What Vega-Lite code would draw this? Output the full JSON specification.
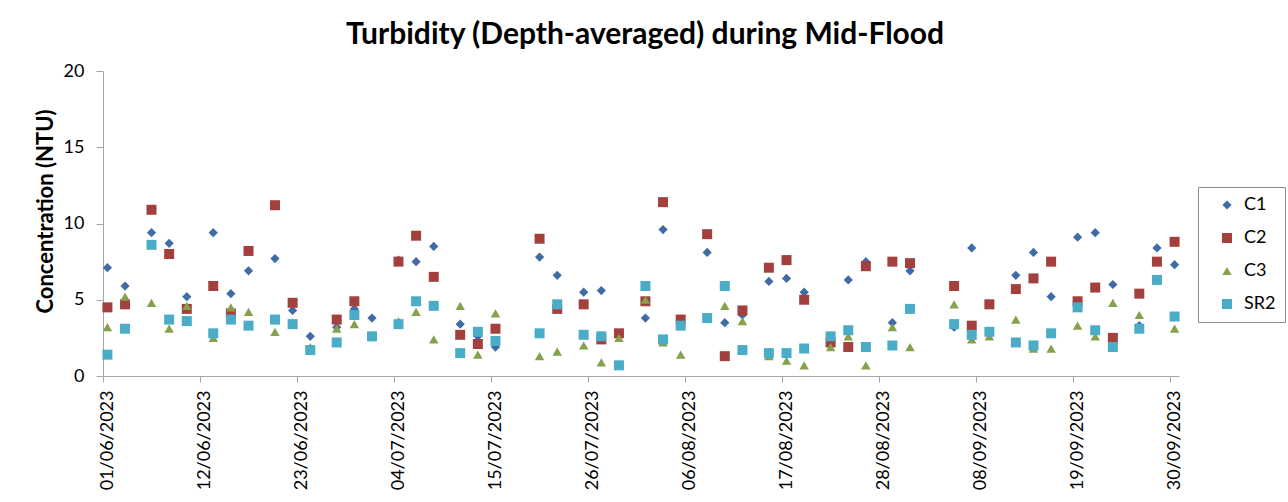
{
  "$schema": "https://vega.github.io/schema/vega-lite/v6.json",
  "width": 1076,
  "height": 305,
  "autosize": {"type": "none"},
  "padding": {"left": 103, "top": 71, "right": 109, "bottom": 126},
  "background": "white",
  "title": {
    "text": "Turbidity (Depth-averaged) during Mid-Flood",
    "font": "Lato",
    "fontSize": 30,
    "fontWeight": "bold",
    "color": "#000000",
    "anchor": "middle",
    "frame": "group",
    "offset": 12,
    "dx": 4
  },
  "data": {
    "values": [
      {"s": "C1", "date": "2023-06-01", "v": 7.1},
      {"s": "C1", "date": "2023-06-03", "v": 5.9},
      {"s": "C1", "date": "2023-06-06", "v": 9.4},
      {"s": "C1", "date": "2023-06-08", "v": 8.7},
      {"s": "C1", "date": "2023-06-10", "v": 5.2},
      {"s": "C1", "date": "2023-06-13", "v": 9.4},
      {"s": "C1", "date": "2023-06-15", "v": 5.4},
      {"s": "C1", "date": "2023-06-17", "v": 6.9},
      {"s": "C1", "date": "2023-06-20", "v": 7.7},
      {"s": "C1", "date": "2023-06-22", "v": 4.3},
      {"s": "C1", "date": "2023-06-24", "v": 2.6},
      {"s": "C1", "date": "2023-06-27", "v": 3.2},
      {"s": "C1", "date": "2023-06-29", "v": 4.4},
      {"s": "C1", "date": "2023-07-01", "v": 3.8},
      {"s": "C1", "date": "2023-07-04", "v": 7.6},
      {"s": "C1", "date": "2023-07-06", "v": 7.5},
      {"s": "C1", "date": "2023-07-08", "v": 8.5},
      {"s": "C1", "date": "2023-07-11", "v": 3.4},
      {"s": "C1", "date": "2023-07-13", "v": 2.6},
      {"s": "C1", "date": "2023-07-15", "v": 1.9},
      {"s": "C1", "date": "2023-07-20", "v": 7.8},
      {"s": "C1", "date": "2023-07-22", "v": 6.6},
      {"s": "C1", "date": "2023-07-25", "v": 5.5},
      {"s": "C1", "date": "2023-07-27", "v": 5.6},
      {"s": "C1", "date": "2023-08-01", "v": 3.8},
      {"s": "C1", "date": "2023-08-03", "v": 9.6},
      {"s": "C1", "date": "2023-08-08", "v": 8.1},
      {"s": "C1", "date": "2023-08-10", "v": 3.5},
      {"s": "C1", "date": "2023-08-12", "v": 4.0},
      {"s": "C1", "date": "2023-08-15", "v": 6.2},
      {"s": "C1", "date": "2023-08-17", "v": 6.4},
      {"s": "C1", "date": "2023-08-19", "v": 5.5},
      {"s": "C1", "date": "2023-08-24", "v": 6.3},
      {"s": "C1", "date": "2023-08-26", "v": 7.5},
      {"s": "C1", "date": "2023-08-29", "v": 3.5},
      {"s": "C1", "date": "2023-08-31", "v": 6.9},
      {"s": "C1", "date": "2023-09-05", "v": 3.2},
      {"s": "C1", "date": "2023-09-07", "v": 8.4},
      {"s": "C1", "date": "2023-09-12", "v": 6.6},
      {"s": "C1", "date": "2023-09-14", "v": 8.1},
      {"s": "C1", "date": "2023-09-16", "v": 5.2},
      {"s": "C1", "date": "2023-09-19", "v": 9.1},
      {"s": "C1", "date": "2023-09-21", "v": 9.4},
      {"s": "C1", "date": "2023-09-23", "v": 6.0},
      {"s": "C1", "date": "2023-09-26", "v": 3.3},
      {"s": "C1", "date": "2023-09-28", "v": 8.4},
      {"s": "C1", "date": "2023-09-30", "v": 7.3},

      {"s": "C2", "date": "2023-06-01", "v": 4.5},
      {"s": "C2", "date": "2023-06-03", "v": 4.7},
      {"s": "C2", "date": "2023-06-06", "v": 10.9},
      {"s": "C2", "date": "2023-06-08", "v": 8.0},
      {"s": "C2", "date": "2023-06-10", "v": 4.4},
      {"s": "C2", "date": "2023-06-13", "v": 5.9},
      {"s": "C2", "date": "2023-06-15", "v": 4.1},
      {"s": "C2", "date": "2023-06-17", "v": 8.2},
      {"s": "C2", "date": "2023-06-20", "v": 11.2},
      {"s": "C2", "date": "2023-06-22", "v": 4.8},
      {"s": "C2", "date": "2023-06-27", "v": 3.7},
      {"s": "C2", "date": "2023-06-29", "v": 4.9},
      {"s": "C2", "date": "2023-07-04", "v": 7.5},
      {"s": "C2", "date": "2023-07-06", "v": 9.2},
      {"s": "C2", "date": "2023-07-08", "v": 6.5},
      {"s": "C2", "date": "2023-07-11", "v": 2.7},
      {"s": "C2", "date": "2023-07-13", "v": 2.1},
      {"s": "C2", "date": "2023-07-15", "v": 3.1},
      {"s": "C2", "date": "2023-07-20", "v": 9.0},
      {"s": "C2", "date": "2023-07-22", "v": 4.4},
      {"s": "C2", "date": "2023-07-25", "v": 4.7},
      {"s": "C2", "date": "2023-07-27", "v": 2.4},
      {"s": "C2", "date": "2023-07-29", "v": 2.8},
      {"s": "C2", "date": "2023-08-01", "v": 4.9},
      {"s": "C2", "date": "2023-08-03", "v": 11.4},
      {"s": "C2", "date": "2023-08-05", "v": 3.7},
      {"s": "C2", "date": "2023-08-08", "v": 9.3},
      {"s": "C2", "date": "2023-08-10", "v": 1.3},
      {"s": "C2", "date": "2023-08-12", "v": 4.3},
      {"s": "C2", "date": "2023-08-15", "v": 7.1},
      {"s": "C2", "date": "2023-08-17", "v": 7.6},
      {"s": "C2", "date": "2023-08-19", "v": 5.0},
      {"s": "C2", "date": "2023-08-22", "v": 2.2},
      {"s": "C2", "date": "2023-08-24", "v": 1.9},
      {"s": "C2", "date": "2023-08-26", "v": 7.2},
      {"s": "C2", "date": "2023-08-29", "v": 7.5},
      {"s": "C2", "date": "2023-08-31", "v": 7.4},
      {"s": "C2", "date": "2023-09-05", "v": 5.9},
      {"s": "C2", "date": "2023-09-07", "v": 3.3},
      {"s": "C2", "date": "2023-09-09", "v": 4.7},
      {"s": "C2", "date": "2023-09-12", "v": 5.7},
      {"s": "C2", "date": "2023-09-14", "v": 6.4},
      {"s": "C2", "date": "2023-09-16", "v": 7.5},
      {"s": "C2", "date": "2023-09-19", "v": 4.9},
      {"s": "C2", "date": "2023-09-21", "v": 5.8},
      {"s": "C2", "date": "2023-09-23", "v": 2.5},
      {"s": "C2", "date": "2023-09-26", "v": 5.4},
      {"s": "C2", "date": "2023-09-28", "v": 7.5},
      {"s": "C2", "date": "2023-09-30", "v": 8.8},

      {"s": "C3", "date": "2023-06-01", "v": 3.2},
      {"s": "C3", "date": "2023-06-03", "v": 5.2},
      {"s": "C3", "date": "2023-06-06", "v": 4.8},
      {"s": "C3", "date": "2023-06-08", "v": 3.1},
      {"s": "C3", "date": "2023-06-10", "v": 4.6},
      {"s": "C3", "date": "2023-06-13", "v": 2.5},
      {"s": "C3", "date": "2023-06-15", "v": 4.5},
      {"s": "C3", "date": "2023-06-17", "v": 4.2},
      {"s": "C3", "date": "2023-06-20", "v": 2.9},
      {"s": "C3", "date": "2023-06-22", "v": 3.5},
      {"s": "C3", "date": "2023-06-24", "v": 1.9},
      {"s": "C3", "date": "2023-06-27", "v": 3.1},
      {"s": "C3", "date": "2023-06-29", "v": 3.4},
      {"s": "C3", "date": "2023-07-01", "v": 2.6},
      {"s": "C3", "date": "2023-07-04", "v": 3.6},
      {"s": "C3", "date": "2023-07-06", "v": 4.2},
      {"s": "C3", "date": "2023-07-08", "v": 2.4},
      {"s": "C3", "date": "2023-07-11", "v": 4.6},
      {"s": "C3", "date": "2023-07-13", "v": 1.4},
      {"s": "C3", "date": "2023-07-15", "v": 4.1},
      {"s": "C3", "date": "2023-07-20", "v": 1.3},
      {"s": "C3", "date": "2023-07-22", "v": 1.6},
      {"s": "C3", "date": "2023-07-25", "v": 2.0},
      {"s": "C3", "date": "2023-07-27", "v": 0.9},
      {"s": "C3", "date": "2023-07-29", "v": 2.5},
      {"s": "C3", "date": "2023-08-01", "v": 5.0},
      {"s": "C3", "date": "2023-08-03", "v": 2.2},
      {"s": "C3", "date": "2023-08-05", "v": 1.4},
      {"s": "C3", "date": "2023-08-10", "v": 4.6},
      {"s": "C3", "date": "2023-08-12", "v": 3.6},
      {"s": "C3", "date": "2023-08-15", "v": 1.3},
      {"s": "C3", "date": "2023-08-17", "v": 1.0},
      {"s": "C3", "date": "2023-08-19", "v": 0.7},
      {"s": "C3", "date": "2023-08-22", "v": 1.9},
      {"s": "C3", "date": "2023-08-24", "v": 2.6},
      {"s": "C3", "date": "2023-08-26", "v": 0.7},
      {"s": "C3", "date": "2023-08-29", "v": 3.2},
      {"s": "C3", "date": "2023-08-31", "v": 1.9},
      {"s": "C3", "date": "2023-09-05", "v": 4.7},
      {"s": "C3", "date": "2023-09-07", "v": 2.4},
      {"s": "C3", "date": "2023-09-09", "v": 2.6},
      {"s": "C3", "date": "2023-09-12", "v": 3.7},
      {"s": "C3", "date": "2023-09-14", "v": 1.8},
      {"s": "C3", "date": "2023-09-16", "v": 1.8},
      {"s": "C3", "date": "2023-09-19", "v": 3.3},
      {"s": "C3", "date": "2023-09-21", "v": 2.6},
      {"s": "C3", "date": "2023-09-23", "v": 4.8},
      {"s": "C3", "date": "2023-09-26", "v": 4.0},
      {"s": "C3", "date": "2023-09-30", "v": 3.1},

      {"s": "SR2", "date": "2023-06-01", "v": 1.4},
      {"s": "SR2", "date": "2023-06-03", "v": 3.1},
      {"s": "SR2", "date": "2023-06-06", "v": 8.6},
      {"s": "SR2", "date": "2023-06-08", "v": 3.7},
      {"s": "SR2", "date": "2023-06-10", "v": 3.6},
      {"s": "SR2", "date": "2023-06-13", "v": 2.8},
      {"s": "SR2", "date": "2023-06-15", "v": 3.7},
      {"s": "SR2", "date": "2023-06-17", "v": 3.3},
      {"s": "SR2", "date": "2023-06-20", "v": 3.7},
      {"s": "SR2", "date": "2023-06-22", "v": 3.4},
      {"s": "SR2", "date": "2023-06-24", "v": 1.7},
      {"s": "SR2", "date": "2023-06-27", "v": 2.2},
      {"s": "SR2", "date": "2023-06-29", "v": 4.0},
      {"s": "SR2", "date": "2023-07-01", "v": 2.6},
      {"s": "SR2", "date": "2023-07-04", "v": 3.4},
      {"s": "SR2", "date": "2023-07-06", "v": 4.9},
      {"s": "SR2", "date": "2023-07-08", "v": 4.6},
      {"s": "SR2", "date": "2023-07-11", "v": 1.5},
      {"s": "SR2", "date": "2023-07-13", "v": 2.9},
      {"s": "SR2", "date": "2023-07-15", "v": 2.3},
      {"s": "SR2", "date": "2023-07-20", "v": 2.8},
      {"s": "SR2", "date": "2023-07-22", "v": 4.7},
      {"s": "SR2", "date": "2023-07-25", "v": 2.7},
      {"s": "SR2", "date": "2023-07-27", "v": 2.6},
      {"s": "SR2", "date": "2023-07-29", "v": 0.7},
      {"s": "SR2", "date": "2023-08-01", "v": 5.9},
      {"s": "SR2", "date": "2023-08-03", "v": 2.4},
      {"s": "SR2", "date": "2023-08-05", "v": 3.3},
      {"s": "SR2", "date": "2023-08-08", "v": 3.8},
      {"s": "SR2", "date": "2023-08-10", "v": 5.9},
      {"s": "SR2", "date": "2023-08-12", "v": 1.7},
      {"s": "SR2", "date": "2023-08-15", "v": 1.5},
      {"s": "SR2", "date": "2023-08-17", "v": 1.5},
      {"s": "SR2", "date": "2023-08-19", "v": 1.8},
      {"s": "SR2", "date": "2023-08-22", "v": 2.6},
      {"s": "SR2", "date": "2023-08-24", "v": 3.0},
      {"s": "SR2", "date": "2023-08-26", "v": 1.9},
      {"s": "SR2", "date": "2023-08-29", "v": 2.0},
      {"s": "SR2", "date": "2023-08-31", "v": 4.4},
      {"s": "SR2", "date": "2023-09-05", "v": 3.4},
      {"s": "SR2", "date": "2023-09-07", "v": 2.7},
      {"s": "SR2", "date": "2023-09-09", "v": 2.9},
      {"s": "SR2", "date": "2023-09-12", "v": 2.2},
      {"s": "SR2", "date": "2023-09-14", "v": 2.0},
      {"s": "SR2", "date": "2023-09-16", "v": 2.8},
      {"s": "SR2", "date": "2023-09-19", "v": 4.5},
      {"s": "SR2", "date": "2023-09-21", "v": 3.0},
      {"s": "SR2", "date": "2023-09-23", "v": 1.9},
      {"s": "SR2", "date": "2023-09-26", "v": 3.1},
      {"s": "SR2", "date": "2023-09-28", "v": 6.3},
      {"s": "SR2", "date": "2023-09-30", "v": 3.9}
    ]
  },
  "mark": {"type": "point", "filled": true, "opacity": 1, "strokeWidth": 0},
  "encoding": {
    "x": {
      "field": "date",
      "type": "temporal",
      "timeUnit": "utcyearmonthdate",
      "bandPosition": 0.5,
      "title": null,
      "scale": {
        "type": "utc",
        "domain": [
          {"year": 2023, "month": 6, "date": 1, "utc": true},
          {"year": 2023, "month": 10, "date": 1, "utc": true}
        ],
        "nice": false
      },
      "axis": {
        "values": [
          {"year": 2023, "month": 6, "date": 1, "utc": true},
          {"year": 2023, "month": 6, "date": 12, "utc": true},
          {"year": 2023, "month": 6, "date": 23, "utc": true},
          {"year": 2023, "month": 7, "date": 4, "utc": true},
          {"year": 2023, "month": 7, "date": 15, "utc": true},
          {"year": 2023, "month": 7, "date": 26, "utc": true},
          {"year": 2023, "month": 8, "date": 6, "utc": true},
          {"year": 2023, "month": 8, "date": 17, "utc": true},
          {"year": 2023, "month": 8, "date": 28, "utc": true},
          {"year": 2023, "month": 9, "date": 8, "utc": true},
          {"year": 2023, "month": 9, "date": 19, "utc": true},
          {"year": 2023, "month": 9, "date": 30, "utc": true}
        ],
        "format": "%d/%m/%Y",
        "labelAngle": -90,
        "labelAlign": "right",
        "labelBaseline": "middle",
        "labelOffset": 4,
        "labelPadding": 8,
        "tickSize": 6,
        "labelFontSize": 18,
        "labelOverlap": false,
        "labelFlush": false,
        "labelBound": false
      }
    },
    "y": {
      "field": "v",
      "type": "quantitative",
      "title": "Concentration (NTU)",
      "scale": {"domain": [0, 20], "nice": false},
      "axis": {
        "values": [0, 5, 10, 15, 20],
        "tickSize": 7,
        "labelPadding": 12,
        "labelFontSize": 18,
        "titleFontSize": 22,
        "titleFontWeight": "bold",
        "titlePadding": 6,
        "titleY": 140
      }
    },
    "color": {
      "field": "s",
      "type": "nominal",
      "scale": {
        "domain": ["C1", "C2", "C3", "SR2"],
        "range": ["#3F6BA6", "#A3403D", "#86A14B", "#4AACC6"]
      },
      "legend": {
        "title": null,
        "orient": "none",
        "legendX": 1095,
        "legendY": 116,
        "strokeColor": "#8C8C8C",
        "fillColor": "white",
        "padding": 9,
        "symbolOffset": 11,
        "rowPadding": 15,
        "labelOffset": 8,
        "labelFontSize": 18,
        "symbolSize": 60,
        "symbolStrokeWidth": 0
      }
    },
    "shape": {
      "field": "s",
      "type": "nominal",
      "scale": {
        "domain": ["C1", "C2", "C3", "SR2"],
        "range": ["diamond", "square", "triangle-up", "square"]
      },
      "legend": {
        "title": null,
        "orient": "none",
        "legendX": 1095,
        "legendY": 116,
        "strokeColor": "#8C8C8C",
        "fillColor": "white",
        "padding": 9,
        "symbolOffset": 11,
        "rowPadding": 15,
        "labelOffset": 8,
        "labelFontSize": 18,
        "symbolSize": 60,
        "symbolStrokeWidth": 0
      }
    },
    "size": {
      "field": "s",
      "type": "nominal",
      "scale": {
        "type": "ordinal",
        "domain": ["C1", "C2", "C3", "SR2"],
        "range": [85, 100, 90, 100]
      },
      "legend": null
    }
  },
  "config": {
    "font": "Lato",
    "view": {"stroke": null},
    "axis": {
      "grid": false,
      "domainColor": "#A6A6A6",
      "tickColor": "#A6A6A6",
      "labelColor": "#000000",
      "titleColor": "#000000",
      "labelFont": "Lato",
      "titleFont": "Lato"
    },
    "legend": {"labelFont": "Lato", "labelColor": "#000000"}
  }
}
